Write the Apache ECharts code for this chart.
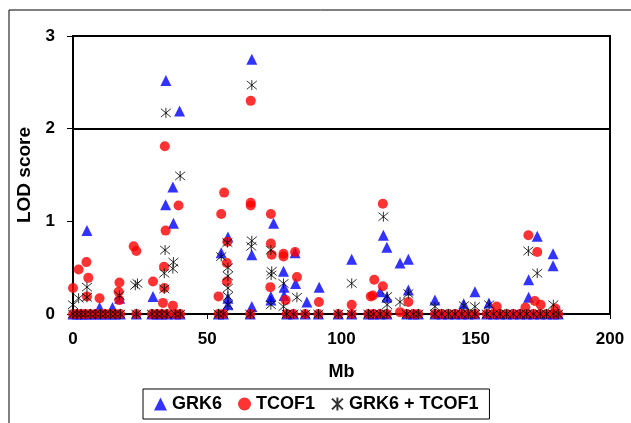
<!DOCTYPE html>
<html><head><meta charset="utf-8">
<script src="https://cdn.jsdelivr.net/npm/echarts@6/dist/echarts.min.js"></script>
<style>html,body{margin:0;padding:0;background:#fff}#c{width:631px;height:423px}</style>
</head><body><div id="c"></div>
<script>
var xTicks = [0, 50, 100, 150, 200];
var yTicks = [0, 1, 2, 3];
var thresholdLOD = 2;
var seriesNames = ['GRK6', 'TCOF1', 'GRK6 + TCOF1'];
// positions (Mb) of markers scoring LOD 0 for all three analyses
var zeroMb = [0, 1.5, 3, 4.6, 6.4, 8.3, 10.2, 12, 13.9, 15.7, 17.6, 23.6, 29.4, 31.3, 33.1, 35, 38.1, 39.9,
  54.2, 56, 66, 79.6, 82.1, 86.5, 91.4, 98.8, 103.8, 110, 111.9, 114.4, 116.9, 124.3, 126.8, 128.6,
  134.8, 137.3, 139.8, 142.3, 144.8, 147.2, 149.7, 154.1, 156.6, 159, 161.5, 164, 166.5, 169, 171.5,
  174, 176.4, 178.9, 180.7];
var grk6 = [[5.2,0.9],[9.9,0.07],[14.7,0.07],[17.4,0.17],[29.8,0.19],[34.5,1.18],[34.6,2.52],[37.2,1.37],
  [37.4,0.98],[39.7,2.19],[55.2,0.66],[57.7,0.83],[57.7,0.17],[57.7,0.10],[66.6,2.75],[66.6,0.64],
  [66.6,0.08],[73.7,0.19],[73.7,0.15],[74.7,0.98],[78.4,0.46],[78.6,0.29],[78.6,0.2],[82.7,0.66],
  [82.9,0.33],[87.1,0.13],[91.7,0.29],[103.8,0.59],[114.4,0.24],[115.6,0.85],[116.9,0.72],[116.9,0.18],
  [121.8,0.55],[124.9,0.59],[124.9,0.26],[134.8,0.15],[145.5,0.11],[149.7,0.24],[154.9,0.12],
  [169.7,0.37],[169.7,0.18],[172.9,0.84],[178.8,0.65],[178.8,0.52]];
var tcof1 = [[0,0.28],[2.1,0.48],[5,0.56],[5.7,0.39],[5.2,0.19],[9.9,0.17],[17.3,0.34],[17,0.24],[17.2,0.15],
  [22.6,0.73],[23.6,0.68],[29.8,0.35],[34.2,1.81],[34.5,0.90],[33.9,0.51],[34,0.28],[33.5,0.12],[37.2,0.09],
  [39.3,1.17],[54.2,0.19],[55.2,1.08],[56.3,1.31],[57.5,0.78],[57.3,0.55],[57.3,0.35],[66.2,2.30],
  [66.2,1.20],[66.2,1.17],[73.7,1.08],[73.7,0.76],[74,0.64],[73.5,0.29],[78.4,0.65],[78.4,0.62],
  [79.2,0.15],[82.7,0.67],[83.4,0.40],[91.6,0.13],[103.8,0.10],[110.9,0.19],[112.2,0.37],[111.7,0.2],
  [115.4,1.19],[115.4,0.30],[121.8,0.02],[124.9,0.13],[157.8,0.08],[168.5,0.07],[169.6,0.85],
  [172.9,0.67],[172,0.14],[174.2,0.1],[179.7,0.06]];
var combined = [[0,0.1],[2.1,0.17],[5.2,0.29],[5.2,0.18],[17.3,0.2],[23.2,0.31],[24,0.33],[34,0.27],[34,0.44],
  [34.3,0.69],[34.6,2.17],[37.2,0.49],[37.4,0.56],[39.9,1.49],[55.2,0.62],[57.5,0.77],[57.7,0.5],
  [57.7,0.41],[57.7,0.28],[57.7,0.19],[57.7,0.1],[66.6,2.47],[66.6,0.79],[66.4,0.73],[73.7,0.69],
  [74,0.46],[73.8,0.42],[73.7,0.1],[78.4,0.33],[78.4,0.08],[83.4,0.18],[103.8,0.33],[115.6,1.05],
  [117,0.19],[117,0.1],[121.8,0.13],[124.9,0.22],[134.8,0.08],[145.6,0.09],[149.7,0.08],[155,0.1],
  [169.6,0.68],[172.9,0.44],[178.9,0.1]];

function withZeros(arr) {
  return zeroMb.map(function (x) { return [x, 0]; }).concat(arr);
}
var font = 'Liberation Sans, Arial, sans-serif';
var starPath = 'path://M0,0L10,10M10,0L0,10M5,-1L5,11';
var chart = echarts.init(document.getElementById('c'), null, {renderer: 'canvas'});
chart.setOption({
  animation: false,
  backgroundColor: '#fff',
  textStyle: {fontFamily: font},
  graphic: [{type: 'rect', shape: {x: 9, y: 10, width: 640, height: 440},
    style: {fill: 'none', stroke: '#000', lineWidth: 1}, z: -1, silent: true}],
  grid: {left: 73, right: 21, top: 36, bottom: 109, show: true, borderColor: '#000', borderWidth: 2,
    backgroundColor: 'transparent'},
  xAxis: {type: 'value', min: xTicks[0], max: xTicks[xTicks.length - 1], interval: 50,
    name: 'Mb', nameLocation: 'middle', nameGap: 49,
    nameTextStyle: {fontWeight: 'bold', fontSize: 18, color: '#000', fontFamily: font},
    axisLine: {show: true, onZero: false, lineStyle: {color: '#000', width: 2}},
    axisTick: {show: true, inside: false, length: 5, lineStyle: {color: '#000', width: 1}},
    axisLabel: {fontWeight: 'bold', fontSize: 17, color: '#000', margin: 17, fontFamily: font},
    splitLine: {show: false}},
  yAxis: {type: 'value', min: yTicks[0], max: yTicks[yTicks.length - 1], interval: 1,
    name: 'LOD score', nameLocation: 'middle', nameGap: 37,
    nameTextStyle: {fontWeight: 'bold', fontSize: 19, color: '#000', fontFamily: font},
    axisLine: {show: true, lineStyle: {color: '#000', width: 2}},
    axisTick: {show: true, inside: false, length: 6, lineStyle: {color: '#000', width: 1}},
    axisLabel: {fontWeight: 'bold', fontSize: 17, color: '#000', margin: 18, fontFamily: font},
    splitLine: {show: false}},
  legend: {top: 389, left: 143, itemGap: 16, itemWidth: 13, itemHeight: 13,
    borderColor: '#000', borderWidth: 1, padding: [6, 11, 6, 11], borderRadius: 0,
    textStyle: {fontWeight: 'bold', fontSize: 18, color: '#000', fontFamily: font},
    data: seriesNames},
  series: [
    {name: seriesNames[0], type: 'scatter', symbol: 'triangle', symbolSize: 11,
      itemStyle: {color: '#0000ff'}, data: withZeros(grk6),
      markLine: {silent: true, symbol: 'none', label: {show: false},
        lineStyle: {color: '#000', width: 2, type: 'solid'}, data: [{yAxis: thresholdLOD}]}},
    {name: seriesNames[1], type: 'scatter', symbol: 'circle', symbolSize: 10,
      itemStyle: {color: '#ff0000'}, data: withZeros(tcof1)},
    {name: seriesNames[2], type: 'scatter', symbol: starPath, symbolSize: 10,
      itemStyle: {color: 'rgba(0,0,0,0)', borderColor: '#000', borderWidth: 1}, data: withZeros(combined)}
  ]
});
</script></body></html>
